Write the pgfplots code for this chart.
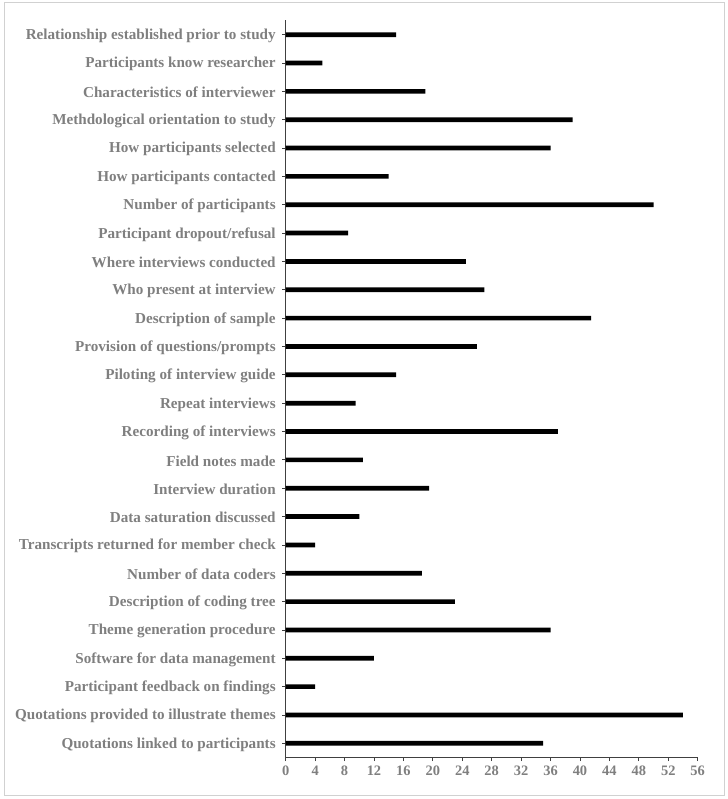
\documentclass[border=0pt]{standalone}
\usepackage{pgfplots}
\pgfplotsset{compat=1.18}
\usepackage{fontspec}
\setmainfont{Liberation Serif}
\definecolor{lab}{HTML}{7F7F7F}
\begin{document}
\begin{tikzpicture}[x=1bp,y=1bp]
\path (-285.7,-41.5) rectangle (442.3,757.5);
\draw[black!18, line width=0.8bp] (-281.7,-37.5) rectangle (438.3,755.5);
\begin{axis}[at={(0,0)}, anchor=south west, scale only axis,
  width=412bp, height=737bp,
  xbar, bar width=4.7bp,
  xmin=0, xmax=56, xtick={0,4,...,56},
  ymin=-0.5, ymax=25.5, y dir=reverse,
  ytick={0,...,25},
  yticklabels={Relationship established prior to study, Participants know researcher, Characteristics of interviewer, Methdological orientation to study, How participants selected, How participants contacted, Number of participants, Participant dropout/refusal, Where interviews conducted, Who present at interview, Description of sample, Provision of questions/prompts, Piloting of interview guide, Repeat interviews, Recording of interviews, Field notes made, Interview duration, Data saturation discussed, Transcripts returned for member check, Number of data coders, Description of coding tree, Theme generation procedure, Software for data management, Participant feedback on findings, Quotations provided to illustrate themes, Quotations linked to participants},
  axis x line*=bottom, axis y line*=left,
  axis line style={black!75, line width=0.8bp},
  tick align=outside, major tick length=3.5bp,
  tick style={black!75, line width=0.8bp},
  /pgf/number format/assume math mode=true,
  yticklabel style={text=lab, font=\bfseries\fontsize{15.2}{17}\selectfont, xshift=-3bp, yshift=-1.2bp},
  xticklabel style={text=lab, font=\bfseries\fontsize{14.5}{16}\selectfont, yshift=-1bp},
]
\addplot[fill=black, draw=none] coordinates {
(15,0) (5,1) (19,2) (39,3) (36,4) (14,5) (50,6) (8.5,7) (24.5,8) (27,9)
(41.5,10) (26,11) (15,12) (9.5,13) (37,14) (10.5,15) (19.5,16) (10,17)
(4,18) (18.5,19) (23,20) (36,21) (12,22) (4,23) (54,24) (35,25)};
\end{axis}
\end{tikzpicture}
\end{document}
